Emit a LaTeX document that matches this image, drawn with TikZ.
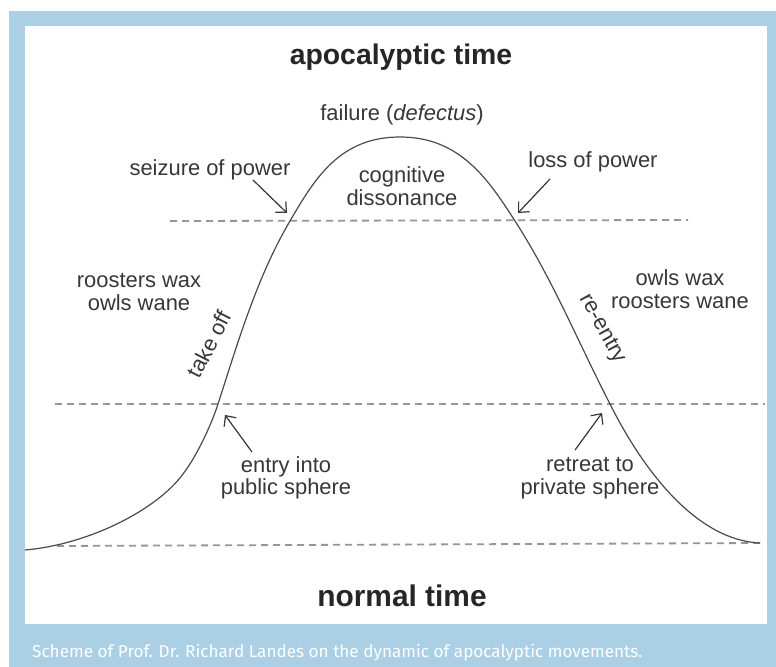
\documentclass[tikz,border=0pt]{standalone}
\usepackage{fontspec}
\setmainfont{Liberation Sans}
\newfontfamily\capfont{Fira Sans}
\usetikzlibrary{arrows.meta}
\definecolor{framebl}{RGB}{171,208,229}
\definecolor{inkgr}{RGB}{55,55,55}
\definecolor{guidegr}{RGB}{150,150,150}

\begin{document}
\begin{tikzpicture}[x=1bp, y=-1bp,
  lbl/.style={align=center, inner sep=0pt, text=inkgr, font=\fontsize{22}{22.5}\selectfont},
  heading/.style={inner sep=0pt, anchor=base, text=black!85, font=\bfseries\fontsize{28.5}{30}\selectfont},
  guide/.style={draw=guidegr, line width=1.8bp, dash pattern=on 7bp off 5bp},
  arr/.style={draw=inkgr, line width=1.2bp, -{Straight Barb[length=8bp,width=15bp]}},
  curve/.style={draw=inkgr!90, line width=1.2bp}
]
\useasboundingbox (0,0) rectangle (776,667);

% frame and caption band
\fill[framebl] (9,11) rectangle (776,667);
\fill[white] (25,26) rectangle (767,624);
\node[anchor=base west, inner sep=0pt, text=white, font=\capfont\fontsize{17.2}{20}\selectfont] (caption) at (32,657)
  {Scheme of Prof. Dr. Richard Landes on the dynamic of apocalyptic movements.};

% headings
\node[heading] (apoc) at (401,65) {apocalyptic time};
\node[heading, font=\bfseries\fontsize{30}{32}\selectfont] (normal) at (402,606) {normal time};

% guide lines
\draw[guide] (170,221) -- (688,220);
\draw[guide] (55,404) -- (765,404);
\draw[guide] (57,546) -- (760,543);

% the movement curve
\draw[curve] (25,550) .. controls (85,545) and (155,512) .. (183,474)
  .. controls (197,456) and (212,423) .. (218,404)
  .. controls (238,342) and (257,277) .. (290,221)
  .. controls (315,178) and (340,137) .. (400,137)
  .. controls (460,137) and (488,179) .. (515,221)
  .. controls (553,280) and (578,342) .. (610,404)
  .. controls (642,468) and (695,540) .. (760,543);

% labels
\node[lbl, anchor=base] (failure) at (402,121) {failure (\textit{defectus})};
\node[lbl] (cognit) at (402,186) {cognitive\\dissonance};
\node[lbl, anchor=base] (seize) at (210,175) {seizure of power};
\node[lbl, anchor=base] (loss) at (593,167) {loss of power};
\node[lbl] (roostwax) at (139,292) {roosters wax\\owls wane};
\node[lbl] (owlswax) at (680,289) {owls wax\\roosters wane};
\node[lbl, rotate=63] (takeoff) at (209,344) {take off};
\node[lbl, rotate=-61] (reentry) at (602,329) {re-entry};
\node[lbl] (entry) at (286,478) {entry into\\public sphere};
\node[lbl] (retreat) at (590,478) {retreat to\\private sphere};

% arrows onto the curve
\coordinate (seizeTail) at (253,180);
\coordinate (seizeTip) at (287,213);
\coordinate (lossTail) at (550,179);
\coordinate (lossTip) at (518,213);
\coordinate (entryTail) at (252,452);
\coordinate (entryTip) at (225,415);
\coordinate (retreatTail) at (575,450);
\coordinate (retreatTip) at (602,413);
\draw[arr] (seizeTail) -- (seizeTip);
\draw[arr] (lossTail) -- (lossTip);
\draw[arr] (entryTail) -- (entryTip);
\draw[arr] (retreatTail) -- (retreatTip);

\end{tikzpicture}
\end{document}
